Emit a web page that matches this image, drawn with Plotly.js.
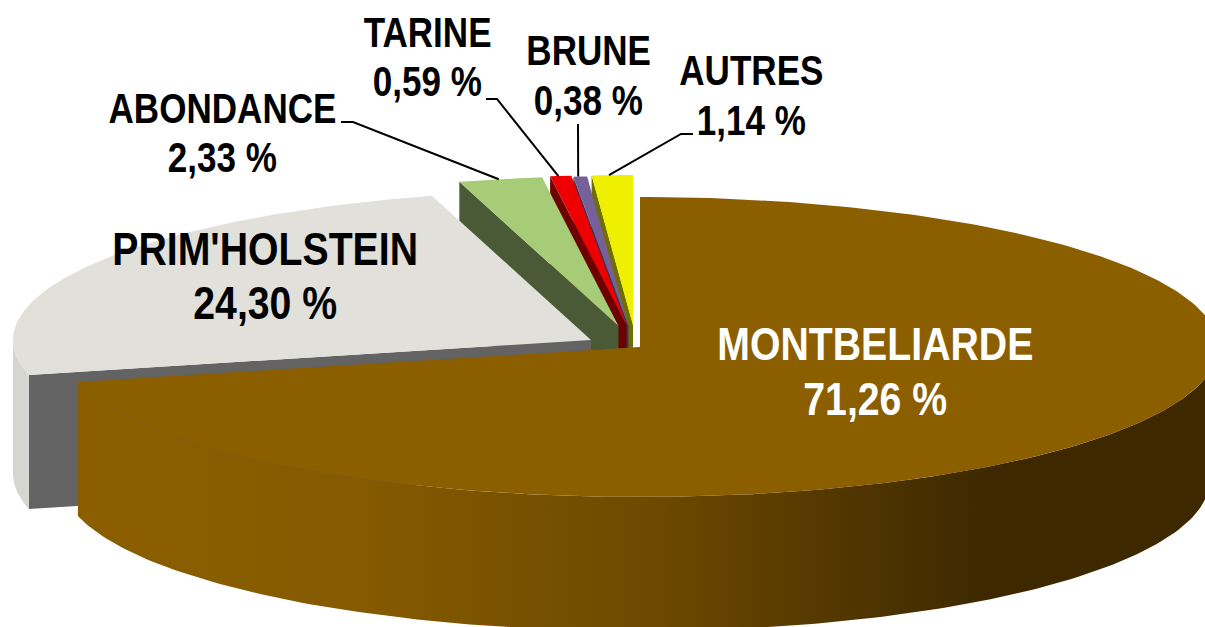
<!DOCTYPE html>
<html><head><meta charset="utf-8">
<script src="https://cdn.plot.ly/plotly-3.0.1.min.js"></script>
<style>html,body{margin:0;padding:0;background:#fff}#c{width:1205px;height:627px}</style>
</head><body><div id="c"></div>
<script>
// DATA
const categories = ["MONTBELIARDE","PRIM'HOLSTEIN","ABONDANCE","TARINE","BRUNE","AUTRES"];
const shares = [71.26,24.30,2.33,0.59,0.38,1.14];

// STYLE
const topColors  = ["#8B5E00","#E1E0DB","#A6CC78","#EE0000","#76609A","#EFEF00"];
const wallColors = ["#8B5E00","#636363","#4A5A36","#6E0000","#3E3358","#6F6F00"];
const apexX = [640,591,618.5,626.5,628.5,633];
const apexY = [347,340,326,325,326,325];
const labelX = [875,264.5,222,427,588,751];
const nameY  = [343,248,108,32,50,70];
const valueY = [398,302,157,81,100,120];
const labelColors = ["#fff","#000","#000","#000","#000","#000"];
const labelSize = [47,47,42,42,42,42];
const TEXT_NARROW = 0.835;
const RX=578, RY=150, DEPTH=134;

const pt=(i,deg,dy=0,narrow=1)=>{const t=deg*Math.PI/180;const s=Math.sin(t);
  return [apexX[i]+RX*s*(s>0?narrow:1), apexY[i]-RY*Math.cos(t)+dy];};
function arc(i,a,b,dy=0,narrow=1){const n=Math.max(2,Math.ceil(Math.abs(b-a)));const o=[];
  for(let k=0;k<=n;k++)o.push(pt(i,a+(b-a)*k/n,dy,narrow));return o;}
function poly(p,color,extra){return Object.assign({type:'scatter',mode:'lines',
  x:p.map(q=>q[0]),y:p.map(q=>q[1]),fill:'toself',fillcolor:color,
  line:{width:0,color:color},hoverinfo:'skip',showlegend:false},extra||{});}

let cum=0;const start=[],end=[];
shares.forEach((v,i)=>{start[i]=cum;cum+=v*3.6;end[i]=cum;});

const traces=[];
// painted back to front: rear slices first, the large front slice last
for(let i=shares.length-1;i>=0;i--){
  const a=start[i],b=end[i];
  const ax=[apexX[i],apexY[i]];
  if(i===0){
    const front=arc(0,90,b).concat(arc(0,b,90,DEPTH,0.985));
    traces.push(poly(front,wallColors[0],{fillgradient:{type:'horizontal',start:78,stop:1218,
      colorscale:[[0,'#8B5E00'],[0.25,'#855A00'],[0.5,'#6E4A00'],[0.8,'#3D2800'],[1,'#3D2800']]}}));
  } else {
    // cut face on the slice's left side
    const o=pt(i,a),o2=pt(i,a,DEPTH);
    traces.push(poly([o,ax,[ax[0],ax[1]+DEPTH],o2,o],wallColors[i]));
    if(i===1){
      traces.push(poly(arc(1,a,270).concat(arc(1,270,a,DEPTH)),"#D6D6D0"));
    }
  }
  traces.push(poly([ax].concat(arc(i,a,b)).concat([ax]),topColors[i]));
}

const fmt=v=>v.toFixed(2).replace('.',',')+' %';
const annotations=[];
categories.forEach((c,i)=>{
  [[c,nameY[i]],[fmt(shares[i]),valueY[i]]].forEach(([t,y])=>annotations.push({
    xref:'x',yref:'y',x:labelX[i],y:y,text:t,showarrow:false,xanchor:'center',yanchor:'middle',
    font:{family:'"Liberation Sans",Arial,sans-serif',size:labelSize[i],color:labelColors[i],weight:700}
  }));
});

// leader lines: from an elbow near the label to a point on the slice's outer arc
const elbows={2:[[341,122],[353,122]],3:[[486,99],[497,99]],4:[[578,124]],5:[[693,134],[681,134]]};
const anchorFrac={2:0.48,3:0.39,4:0.35,5:0.42};
const shapes=Object.keys(elbows).map(k=>{const i=+k;const e=pt(i,start[i]+(end[i]-start[i])*anchorFrac[k]);
  const p=elbows[k].concat([e]);
  return {type:'path',xref:'x',yref:'y',path:'M'+p.map(q=>q[0]+','+q[1]).join('L'),line:{color:'#000',width:2},layer:'above'};});

Plotly.newPlot('c',traces,{
  width:1205,height:627,margin:{l:0,r:0,t:0,b:0},
  paper_bgcolor:'#fff',plot_bgcolor:'#fff',showlegend:false,
  xaxis:{range:[0,1205],visible:false,fixedrange:true},
  yaxis:{range:[627,0],visible:false,fixedrange:true},
  annotations,shapes
},{displayModeBar:false,staticPlot:true}).then(gd=>{
  // Arial Narrow look: condense each label about its own centre
  gd.querySelectorAll('.annotation-text').forEach(el=>{
    const b=el.getBBox();const cx=b.x+b.width/2;
    el.setAttribute('transform',`translate(${cx} 0) scale(${TEXT_NARROW} 1) translate(${-cx} 0)`);
  });
});
</script></body></html>
